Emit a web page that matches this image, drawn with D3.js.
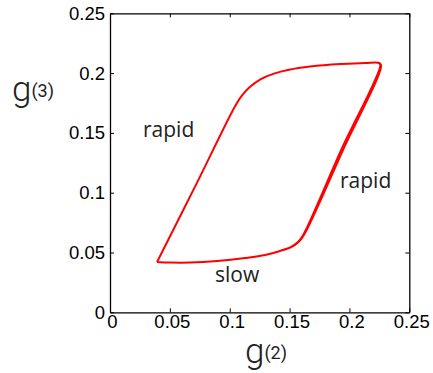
<!DOCTYPE html>
<html>
<head>
  <meta charset="utf-8">
  <title>g3 vs g2 loop</title>
  <style>
    body { margin: 0; background: #fff; }
    svg { display: block; }
  </style>
</head>
<body>
<script src="https://cdn.jsdelivr.net/npm/d3@7"></script>
<script>
  // ticks
  var tickValues = [0, 0.05, 0.1, 0.15, 0.2, 0.25];
  var tickLabels = ["0", "0.05", "0.1", "0.15", "0.2", "0.25"];

  // main loop (g2, g3)
  var loopG2 = [0.0393, 0.0727, 0.104, 0.110, 0.1170, 0.126, 0.1370, 0.1495, 0.1672, 0.1923, 0.2132, 0.2241, 0.2258,
                0.1931, 0.1614, 0.1572, 0.1513, 0.1421, 0.1296, 0.1129, 0.0895, 0.0669, 0.0502, 0.0393];
  var loopG3 = [0.0421, 0.1084, 0.1715, 0.1810, 0.1885, 0.1950, 0.1996, 0.2028, 0.2055, 0.2076, 0.2084, 0.2087, 0.2072,
                0.1357, 0.0646, 0.0588, 0.0546, 0.0513, 0.0479, 0.0454, 0.0429, 0.0416, 0.0416, 0.0421];

  // second strand along the right (rapid) edge
  var edgeG2 = [0.2245, 0.2264, 0.1946, 0.1628, 0.1586, 0.1525];
  var edgeG3 = [0.2085, 0.2066, 0.1357, 0.0660, 0.0600, 0.0552];

  var W = 433, H = 373;
  var margin = {top: 13.3, right: 23.7, bottom: 60.7, left: 110};
  var width = W - margin.left - margin.right,
      height = H - margin.top - margin.bottom;

  var svg = d3.select("body").append("svg")
    .attr("width", W)
    .attr("height", H);

  var chart = svg.append("g")
    .attr("transform", "translate(" + margin.left + "," + margin.top + ")");

  var x = d3.scaleLinear().domain([0, 0.25]).range([0, width]);
  var y = d3.scaleLinear().domain([0, 0.25]).range([height, 0]);

  var fmt = function(d){ return tickLabels[tickValues.indexOf(d)]; };

  // axes with inward ticks on all four sides
  var bottom = chart.append("g")
    .attr("transform", "translate(0," + height + ")")
    .call(d3.axisBottom(x).tickValues(tickValues).tickFormat(fmt).tickSizeInner(-4).tickSizeOuter(0).tickPadding(2.5));
  bottom.selectAll("text").attr("dx", 2);

  chart.append("g")
    .call(d3.axisLeft(y).tickValues(tickValues).tickFormat(fmt).tickSizeInner(-4).tickSizeOuter(0).tickPadding(5));

  chart.append("g")
    .call(d3.axisTop(x).tickValues(tickValues).tickFormat("").tickSizeInner(-4).tickSizeOuter(0));

  chart.append("g")
    .attr("transform", "translate(" + width + ",0)")
    .call(d3.axisRight(y).tickValues(tickValues).tickFormat("").tickSizeInner(-4).tickSizeOuter(0));

  chart.selectAll(".domain").attr("stroke", "#000").attr("stroke-width", 1.3);
  chart.selectAll(".tick line").attr("stroke", "#000");
  chart.selectAll(".tick text")
    .style("font-family", "'Liberation Sans', Arial, sans-serif")
    .style("font-size", "18.5px")
    .attr("fill", "#000");

  // the loop
  var line = d3.line()
    .x(function(d){ return x(d[0]); })
    .y(function(d){ return y(d[1]); })
    .curve(d3.curveCatmullRom.alpha(0.5));

  chart.append("path")
    .datum(d3.zip(loopG2, loopG3))
    .attr("fill", "none")
    .attr("stroke", "#ff0000")
    .attr("stroke-width", 2)
    .attr("stroke-linejoin", "round")
    .attr("d", line);

  chart.append("path")
    .datum(d3.zip(edgeG2, edgeG3))
    .attr("fill", "none")
    .attr("stroke", "#ff0000")
    .attr("stroke-width", 2)
    .attr("d", line);

  // annotations
  var notes = svg.append("g")
    .style("font-family", "'Open Sans', sans-serif")
    .style("font-size", "21px")
    .attr("fill", "#222");

  notes.append("text").attr("x", 143).attr("y", 136.5).text("rapid");
  notes.append("text").attr("x", 340).attr("y", 188).text("rapid");
  notes.append("text").attr("x", 215).attr("y", 282).text("slow");

  // axis titles
  var ylab = svg.append("text")
    .attr("x", 12).attr("y", 101)
    .style("font-family", "Roboto, 'DejaVu Sans', sans-serif")
    .attr("fill", "#222");
  ylab.append("tspan").style("font-size", "35px").style("font-weight", "300").text("g");
  ylab.append("tspan").style("font-size", "18px").attr("dy", -4).text("(3)");

  var xlab = svg.append("text")
    .attr("x", 245).attr("y", 363)
    .style("font-family", "Roboto, 'DejaVu Sans', sans-serif")
    .attr("fill", "#222");
  xlab.append("tspan").style("font-size", "35px").style("font-weight", "300").text("g");
  xlab.append("tspan").style("font-size", "18px").attr("dy", -4).text("(2)");
</script>
</body>
</html>
